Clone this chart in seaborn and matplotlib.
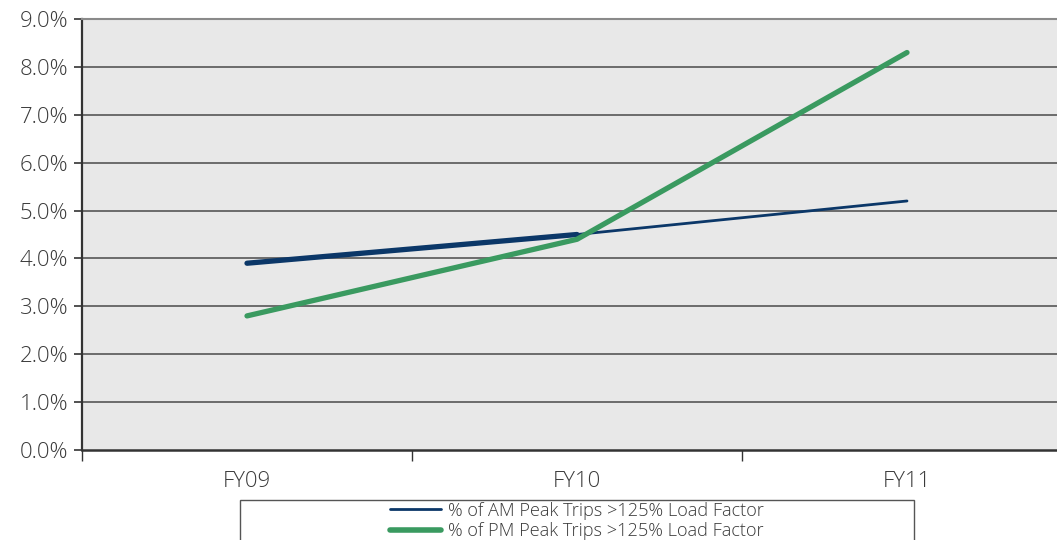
import matplotlib
matplotlib.use("Agg")
import matplotlib.pyplot as plt
import seaborn as sns
import pandas as pd
from matplotlib.lines import Line2D
from matplotlib.patches import Rectangle
from matplotlib.ticker import FixedLocator, FuncFormatter

years = ["FY09", "FY10", "FY11"]
am_peak = [3.9, 4.5, 5.2]
pm_peak = [2.8, 4.4, 8.3]
am_label = "% of AM Peak Trips >125% Load Factor"
pm_label = "% of PM Peak Trips >125% Load Factor"

am_color = "#0b3768"
pm_color = "#3a9a60"
text_color = "#3a3a3a"

sns.set_theme(style="white")
plt.rcParams["font.family"] = ["Open Sans", "DejaVu Sans"]
plt.rcParams["font.weight"] = 300

df = pd.DataFrame({"year": years, "x": range(len(years)), "am": am_peak, "pm": pm_peak})

fig = plt.figure(figsize=(10.57, 5.40), dpi=100)
ax = fig.add_axes([82 / 1057, 90 / 540, 990 / 1057, 431 / 540])
ax.set_facecolor("#e8e8e8")

# horizontal gridlines
for y in range(1, 9):
    ax.axhline(y, color="#4a4a4a", lw=1.1, zorder=1)

# AM series: thin overall, heavier over the first interval
sns.lineplot(data=df, x="x", y="am", ax=ax, color=am_color, lw=2.0, zorder=3)
sns.lineplot(data=df.iloc[:2], x="x", y="am", ax=ax, color=am_color, lw=3.8, zorder=3)
# PM series
sns.lineplot(data=df, x="x", y="pm", ax=ax, color=pm_color, lw=3.8, zorder=4,
             solid_capstyle="round")

ax.set_xlim(-0.5, 2.5)
ax.set_ylim(0, 9)
ax.set_xlabel("")
ax.set_ylabel("")

ax.yaxis.set_major_locator(FixedLocator(range(0, 10)))
ax.yaxis.set_major_formatter(FuncFormatter(lambda v, p: f"{v:.1f}%"))
ax.xaxis.set_major_locator(FixedLocator([-0.5, 0.5, 1.5, 2.5]))
ax.xaxis.set_minor_locator(FixedLocator(df["x"]))
ax.set_xticklabels([])
ax.set_xticklabels(years, minor=True)

ax.tick_params(axis="y", which="major", direction="out", length=6, width=1.2,
               color="#333333", labelsize=16, labelcolor=text_color, pad=4, left=True)
ax.tick_params(axis="x", which="major", direction="out", length=8, width=1.0,
               color="#333333", bottom=True)
ax.tick_params(axis="x", which="minor", length=0, labelsize=16,
               labelcolor=text_color, pad=15)

ax.spines["right"].set_visible(False)
ax.spines["top"].set_color("#8a8a8a")
ax.spines["top"].set_linewidth(1.5)
ax.spines["left"].set_color("#333333")
ax.spines["left"].set_linewidth(1.6)
ax.spines["bottom"].set_color("#333333")
ax.spines["bottom"].set_linewidth(1.8)

# legend box and entries
fig.patches.append(Rectangle((240 / 1057, -10 / 540), 674 / 1057, 50 / 540,
                             transform=fig.transFigure, facecolor="white",
                             edgecolor="#555555", lw=1.0))
handles = [Line2D([], [], color=am_color, lw=2.0),
           Line2D([], [], color=pm_color, lw=4.0, solid_capstyle="round")]
fig.legend(handles, [am_label, pm_label], loc="center",
           bbox_to_anchor=(577 / 1057, 19 / 540), frameon=False, fontsize=13.1,
           labelcolor=text_color, handlelength=2.8, handletextpad=0.35,
           labelspacing=0.15, borderpad=0)

fig.savefig("out.png", dpi=100)
